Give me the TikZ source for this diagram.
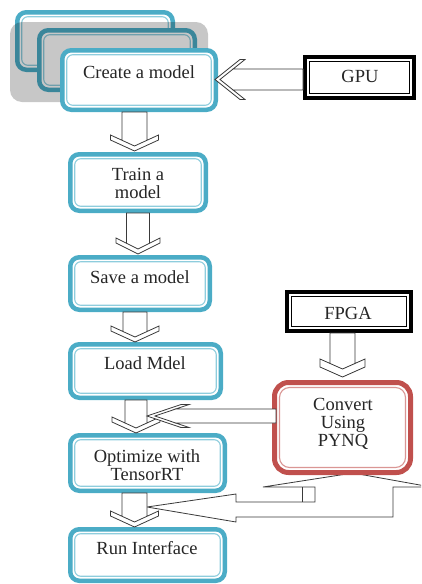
\documentclass[tikz,border=0pt]{standalone}
\usepackage{fontspec}
\setmainfont{Liberation Serif}
\definecolor{boxblue}{HTML}{4BACC6}
\definecolor{lightblue}{HTML}{8ECDDD}
\definecolor{boxred}{HTML}{C0504D}
\definecolor{lightred}{HTML}{DA9694}
\definecolor{arrowgray}{HTML}{3A3A3A}
\newcommand{\innerframe}[3]{\draw[#3] ([shift={(#2,#2)}]#1.north west) rectangle ([shift={(-#2,-#2)}]#1.south east);}
% x centre, y top, y tip, shaft half width, head half width, head length, double offset
\newcommand{\blockdown}[7]{%
  \draw[blockarr] (#1-#4,#2) -- (#1+#4,#2) -- (#1+#4,#3-#7-#4*#6/#5) -- (#1+#5,#3-#6-#7) -- (#1+#5,#3-#6) -- (#1,#3)
     -- (#1-#5,#3-#6) -- (#1-#5,#3-#6-#7) -- (#1-#4,#3-#7-#4*#6/#5) -- cycle;
  \draw[blockarr] (#1-#4,#3-#7-#4*#6/#5) -- (#1,#3-#7) -- (#1+#4,#3-#7-#4*#6/#5);}
% y centre, x right, x tip, shaft half width, head half width, head length, double offset
\newcommand{\blockleft}[7]{%
  \draw[blockarr] (#2,#1-#4) -- (#3+#7+#4*#6/#5,#1-#4) -- (#3+#6+#7,#1-#5) -- (#3+#6,#1-#5) -- (#3,#1)
     -- (#3+#6,#1+#5) -- (#3+#6+#7,#1+#5) -- (#3+#7+#4*#6/#5,#1+#4) -- (#2,#1+#4) -- cycle;
  \draw[blockarr] (#3+#7+#4*#6/#5,#1-#4) -- (#3+#7,#1) -- (#3+#7+#4*#6/#5,#1+#4);}
\begin{document}
\begin{tikzpicture}[x=1pt,y=-1pt,
  every node/.style={inner sep=0pt, outer sep=0pt},
  bluebox/.style={draw=boxblue, line width=4.5pt, rounded corners=9pt, fill=white},
  innerblue/.style={draw=lightblue, line width=1.1pt, rounded corners=6pt},
  redbox/.style={draw=boxred, line width=5pt, rounded corners=14pt, fill=white},
  innerred/.style={draw=lightred, line width=1.1pt, rounded corners=10pt},
  blackbox/.style={draw=black, line width=4pt, fill=white},
  innerblack/.style={draw=black, line width=0.9pt},
  blockarr/.style={draw=arrowgray, line width=0.8pt, fill=white, line join=miter},
  txt/.style={font=\fontsize{18.5}{18}\selectfont, align=center, text=black!85}
]
\useasboundingbox (0,0) rectangle (421,584);
\clip (0,0) rectangle (421,584);

% stacked boxes behind "Create a model"
\node[bluebox, minimum width=155.5pt, minimum height=57.5pt] (backa) at (95,41) {};
\innerframe{backa}{4.5}{innerblue}
\node[bluebox, minimum width=155.5pt, minimum height=59.5pt] (backb) at (117,60) {};
\innerframe{backb}{4.5}{innerblue}
\fill[black, fill opacity=0.22, rounded corners=12pt] (10,22) rectangle (208,102);

% main boxes
\node[bluebox, minimum width=153.5pt, minimum height=59.5pt] (create) at (139,80) {};
\innerframe{create}{4.5}{innerblue}
\node[bluebox, minimum width=135.5pt, minimum height=56.5pt] (train) at (138,182.5) {};
\innerframe{train}{4.5}{innerblue}
\node[bluebox, minimum width=139.5pt, minimum height=52.5pt] (save) at (140,283.5) {};
\innerframe{save}{4.5}{innerblue}
\node[bluebox, minimum width=150.5pt, minimum height=53.5pt] (load) at (145.5,371) {};
\innerframe{load}{4.5}{innerblue}
\node[bluebox, minimum width=154.5pt, minimum height=55.5pt] (optimize) at (147.5,463) {};
\innerframe{optimize}{4.5}{innerblue}
\node[bluebox, minimum width=154.5pt, minimum height=51.5pt] (run) at (147.5,555) {};
\innerframe{run}{4.5}{innerblue}

% U-turn arrow from Convert
\draw[blockarr] (353,473) -- (431,487) -- (393,487) -- (393,517) -- (236,517) -- (236,522) -- (147,507)
   -- (236,494) -- (236,502) -- (315,502) -- (315,487) -- (263,487) -- cycle;
\draw[blockarr] (302,487) -- (302,502);

\node[redbox, minimum width=136pt, minimum height=90pt] (convert) at (342.5,427.5) {};
\innerframe{convert}{5}{innerred}

\node[blackbox, minimum width=109pt, minimum height=41pt] (gpu) at (359.5,77.5) {};
\innerframe{gpu}{4.5}{innerblack}
\node[blackbox, minimum width=124pt, minimum height=39pt] (fpga) at (349,311.5) {};
\innerframe{fpga}{4.5}{innerblack}

% texts
\node[txt] (createt) at (139,72) {Create a model};
\node[txt] (traint) at (138,183) {Train a\\model};
\node[txt] (savet) at (140,277) {Save a model};
\node[txt] (loadt) at (145,363) {Load Mdel};
\node[txt] (optt) at (147,465) {Optimize with\\TensorRT};
\node[txt] (runt) at (147,548) {Run Interface};
\node[txt] (gput) at (360,76) {GPU};
\node[txt] (fpgat) at (348,313) {FPGA};
\node[txt] (convt) at (343,424) {Convert\\Using\\PYNQ};

% block arrows
\blockdown{134.5}{112}{151}{12.5}{24}{11}{5}
\blockdown{138}{213}{254}{11.5}{22}{11}{5}
\blockdown{135}{312}{342}{12}{24}{11}{5}
\blockdown{136}{400}{433}{11}{24}{11}{5}
\blockdown{134.5}{493}{527}{12.5}{24}{11}{5}
\blockdown{342.5}{333}{377}{12.5}{22.5}{10}{8}
\blockleft{79.5}{303}{215}{10.5}{20}{25}{5}
\blockleft{416}{276}{147}{7}{11.5}{34}{8}
\end{tikzpicture}
\end{document}
